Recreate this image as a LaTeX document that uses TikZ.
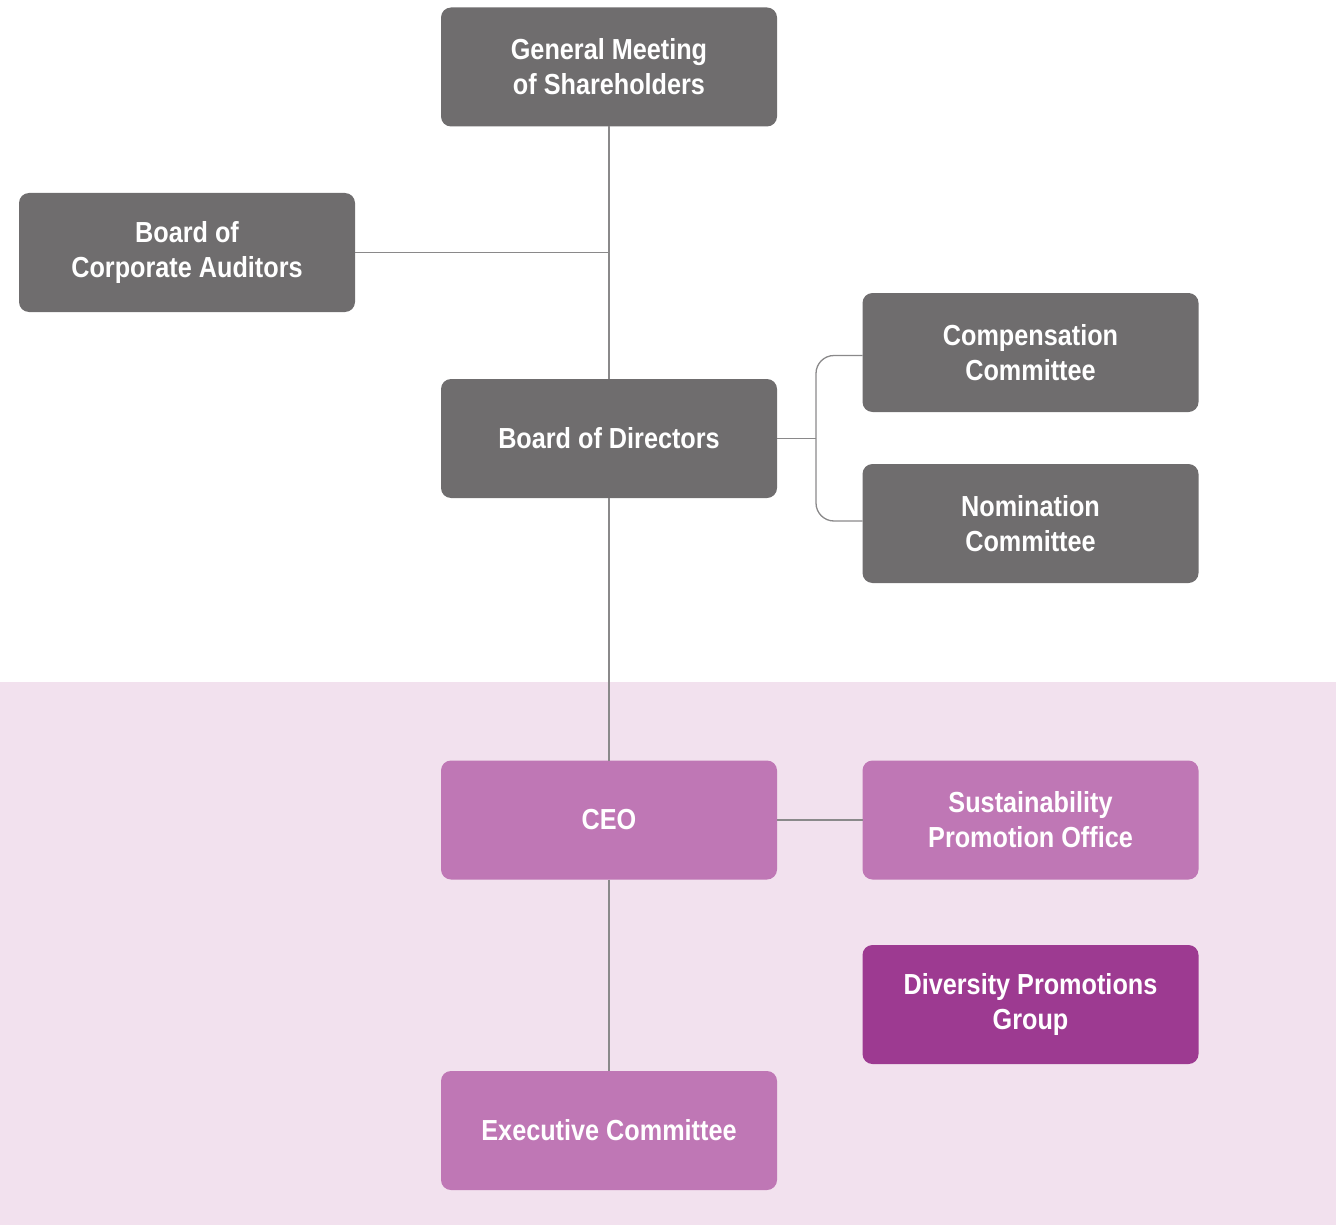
\documentclass[tikz,border=0pt]{standalone}
\usepackage{fontspec}
\newfontfamily\boxfont{Liberation Sans Bold}[FakeStretch=0.87]
\begin{document}
\begin{tikzpicture}[x=1pt,y=-1pt,
  box/.style={rounded corners=10pt, minimum width=336pt, minimum height=119pt,
    inner sep=0pt, outer sep=0pt, text=white, align=center,
    font=\boxfont\fontsize{29}{35}\selectfont},
  graybox/.style={box, fill=boxgray},
  lightbox/.style={box, fill=lightpurple},
  darkbox/.style={box, fill=darkpurple},
  conn/.style={draw=linegray, line width=1.3pt}]
\definecolor{boxgray}{HTML}{6F6D6E}
\definecolor{lightpurple}{HTML}{BF77B5}
\definecolor{darkpurple}{HTML}{9D3A91}
\definecolor{pinkbg}{HTML}{F2E1EE}
\definecolor{linegray}{HTML}{8A898A}
\useasboundingbox (0,0) rectangle (1336,1225);
\fill[pinkbg] (0,682) rectangle (1336,1225);
\node[graybox] (gm) at (609,67) {General Meeting\\of Shareholders};
\node[graybox] (bca) at (187,252.5) {Board of\\Corporate Auditors};
\node[graybox] (bod) at (609,438.5) {Board of Directors};
\node[graybox] (comp) at (1030.5,352.5) {Compensation\\Committee};
\node[graybox] (nom) at (1030.5,523.5) {Nomination\\Committee};
\node[lightbox] (ceo) at (609,820) {CEO};
\node[lightbox] (spo) at (1030.5,820) {Sustainability\\Promotion Office};
\node[darkbox] (dpg) at (1030.5,1004.5) {Diversity Promotions\\Group};
\node[lightbox] (ec) at (609,1130.5) {Executive Committee};
\coordinate (j1) at (609,252.5);
\coordinate (bx) at (816,438.5);
\draw[conn] (gm.south) -- (bod.north);
\draw[conn] (bca.east) -- (j1);
\draw[conn] (bod.south) -- (ceo.north);
\draw[conn] (ceo.south) -- (ec.north);
\draw[conn] (ceo.east) -- (spo.west);
\draw[conn] (bod.east) -- (bx);
\draw[conn, rounded corners=18pt] (comp.west |- 0,355.5) -| (bx) |- (nom.west |- 0,521);
\end{tikzpicture}
\end{document}
